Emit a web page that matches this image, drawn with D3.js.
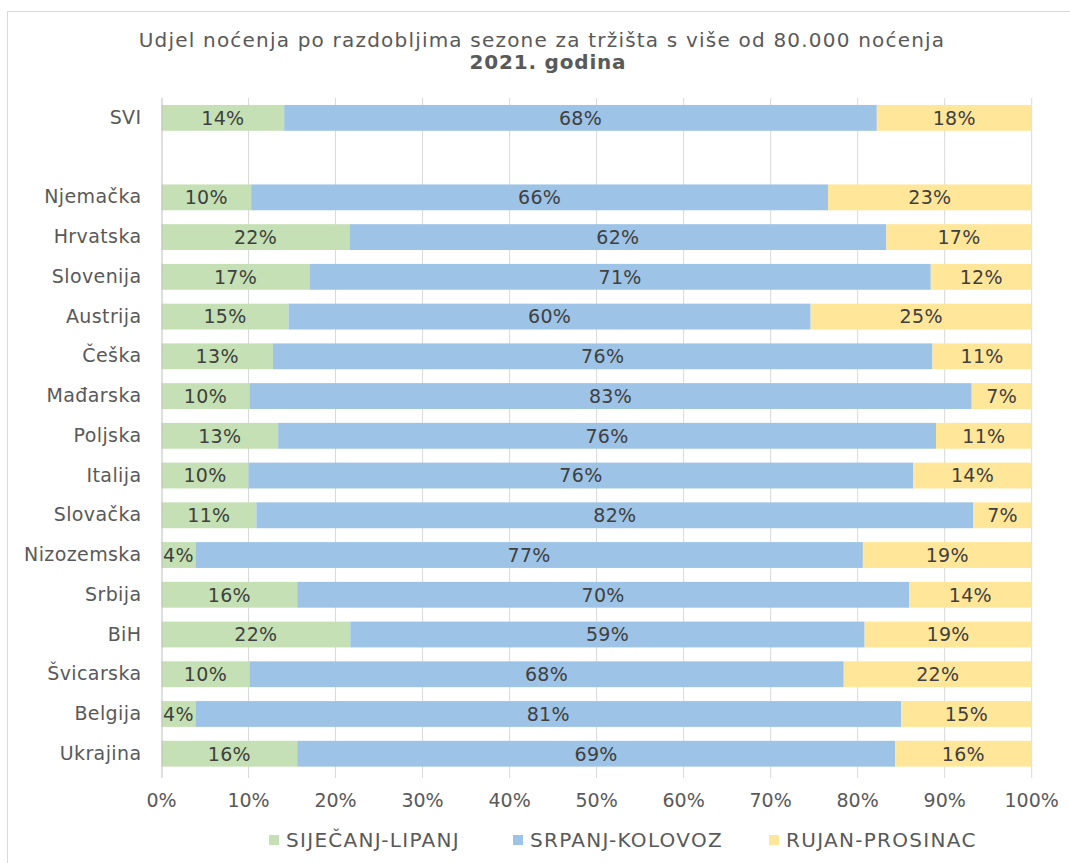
<!DOCTYPE html>
<html>
<head>
<meta charset="utf-8">
<script src="https://cdn.jsdelivr.net/npm/d3@7"></script>
<style>
  body { margin: 0; background: #fff; }
  text { font-family: "DejaVu Sans", Verdana, sans-serif; }
</style>
</head>
<body>
<div id="chart"></div>
<script>
// Chart size
const width = 1070;
const height = 863;

// Categories (empty one is the gap after SVI)
const countries = ["SVI", "", "Njemačka", "Hrvatska", "Slovenija", "Austrija", "Češka", "Mađarska",
  "Poljska", "Italija", "Slovačka", "Nizozemska", "Srbija", "BiH", "Švicarska", "Belgija", "Ukrajina"];

// Shares per season period (%)
const sijecanjLipanj = [14.1, null, 10.3, 21.6, 17.0, 14.6, 12.8, 10.1, 13.4, 10.0, 10.9, 3.9, 15.6, 21.7, 10.1, 3.9, 15.6];
const srpanjKolovoz  = [68.1, null, 66.3, 61.7, 71.4, 60.0, 75.8, 83.0, 75.6, 76.4, 82.4, 76.7, 70.3, 59.1, 68.3, 81.1, 68.7];
const rujanProsinac  = [17.8, null, 23.4, 16.7, 11.6, 25.4, 11.4, 6.9, 11.0, 13.6, 6.7, 19.4, 14.1, 19.2, 21.6, 15.0, 15.7];

const seriesNames = ["SIJEČANJ-LIPANJ", "SRPANJ-KOLOVOZ", "RUJAN-PROSINAC"];
const colors = ["#c5e0b4", "#9dc3e6", "#ffe699"];
const xTicks = [0, 10, 20, 30, 40, 50, 60, 70, 80, 90, 100];

const margin = { top: 98, right: 38, bottom: 90, left: 161.5 };

const svg = d3.select("#chart")
  .append("svg")
  .attr("width", width)
  .attr("height", height);

// Chart border
svg.append("rect")
  .attr("x", 7.5).attr("y", 11.5)
  .attr("width", width).attr("height", height)
  .attr("fill", "none")
  .attr("stroke", "#d9d9d9");

// Title
svg.append("text")
  .attr("x", 542).attr("y", 47)
  .attr("text-anchor", "middle")
  .attr("font-size", "20px")
  .attr("letter-spacing", "1.2px")
  .attr("fill", "#595959")
  .text("Udjel noćenja po razdobljima sezone za tržišta s više od 80.000 noćenja");
svg.append("text")
  .attr("x", 548).attr("y", 69)
  .attr("text-anchor", "middle")
  .attr("font-size", "20px")
  .attr("letter-spacing", "0.8px")
  .attr("font-weight", "bold")
  .attr("fill", "#595959")
  .text("2021. godina");

const x = d3.scaleLinear()
  .domain([0, 100])
  .range([margin.left, 1031.7]);

const y = d3.scaleBand()
  .domain(countries.map((c, i) => i))
  .range([margin.top, 773.6])
  .paddingInner(0.35)
  .paddingOuter(0.175);

// Gridlines
svg.append("g")
  .selectAll("line")
  .data(xTicks.slice(1))
  .enter()
  .append("line")
  .attr("x1", d => x(d)).attr("x2", d => x(d))
  .attr("y1", margin.top).attr("y2", 778)
  .attr("stroke", "#d9d9d9")
  .attr("stroke-width", 1);

// Stack the data
const rows = countries.map((c, i) => ({
  i: i,
  a: sijecanjLipanj[i],
  b: srpanjKolovoz[i],
  c: rujanProsinac[i]
})).filter(d => d.a !== null);

const stack = d3.stack().keys(["a", "b", "c"]);
const stacked = stack(rows);

const layers = svg.append("g")
  .selectAll("g")
  .data(stacked)
  .enter()
  .append("g")
  .attr("fill", (d, k) => colors[k]);

layers.selectAll("rect")
  .data(d => d)
  .enter()
  .append("rect")
  .attr("x", d => x(d[0]))
  .attr("y", d => y(d.data.i))
  .attr("width", d => x(d[1]) - x(d[0]))
  .attr("height", y.bandwidth());

// Data labels
layers.selectAll("text")
  .data(d => d)
  .enter()
  .append("text")
  .attr("x", d => (x(d[0]) + x(d[1])) / 2)
  .attr("y", d => y(d.data.i) + y.bandwidth() / 2)
  .attr("dy", "0.36em")
  .attr("text-anchor", "middle")
  .attr("font-size", "19px")
  .attr("letter-spacing", "0.3px")
  .attr("fill", "#404040")
  .text(d => Math.round(d[1] - d[0]) + "%");

// Vertical axis
const yAxis = svg.append("g")
  .attr("transform", `translate(${margin.left},0)`)
  .call(d3.axisLeft(y).tickFormat(i => countries[i]).tickSize(0).tickPadding(20));
yAxis.select(".domain")
  .attr("stroke", "#bfbfbf")
  .attr("d", `M0.5,${margin.top}V778`);
yAxis.selectAll("text")
  .attr("font-size", "19px")
  .attr("letter-spacing", "0.4px")
  .attr("font-family", "DejaVu Sans, Verdana, sans-serif")
  .attr("fill", "#595959");

// Horizontal axis labels
svg.append("g")
  .selectAll("text")
  .data(xTicks)
  .enter()
  .append("text")
  .attr("x", d => x(d))
  .attr("y", 807)
  .attr("text-anchor", "middle")
  .attr("font-size", "19px")
  .attr("fill", "#595959")
  .text(d => d + "%");

// Legend
const legendX = [269, 513, 769];
const legend = svg.append("g")
  .selectAll("g")
  .data(seriesNames)
  .enter()
  .append("g")
  .attr("transform", (d, k) => `translate(${legendX[k]},840)`);

legend.append("rect")
  .attr("x", 0).attr("y", -5)
  .attr("width", 10).attr("height", 10)
  .attr("fill", (d, k) => colors[k]);

legend.append("text")
  .attr("x", 17)
  .attr("dy", "0.36em")
  .attr("font-size", "20px")
  .attr("letter-spacing", "1.3px")
  .attr("fill", "#595959")
  .text(d => d);
</script>
</body>
</html>
